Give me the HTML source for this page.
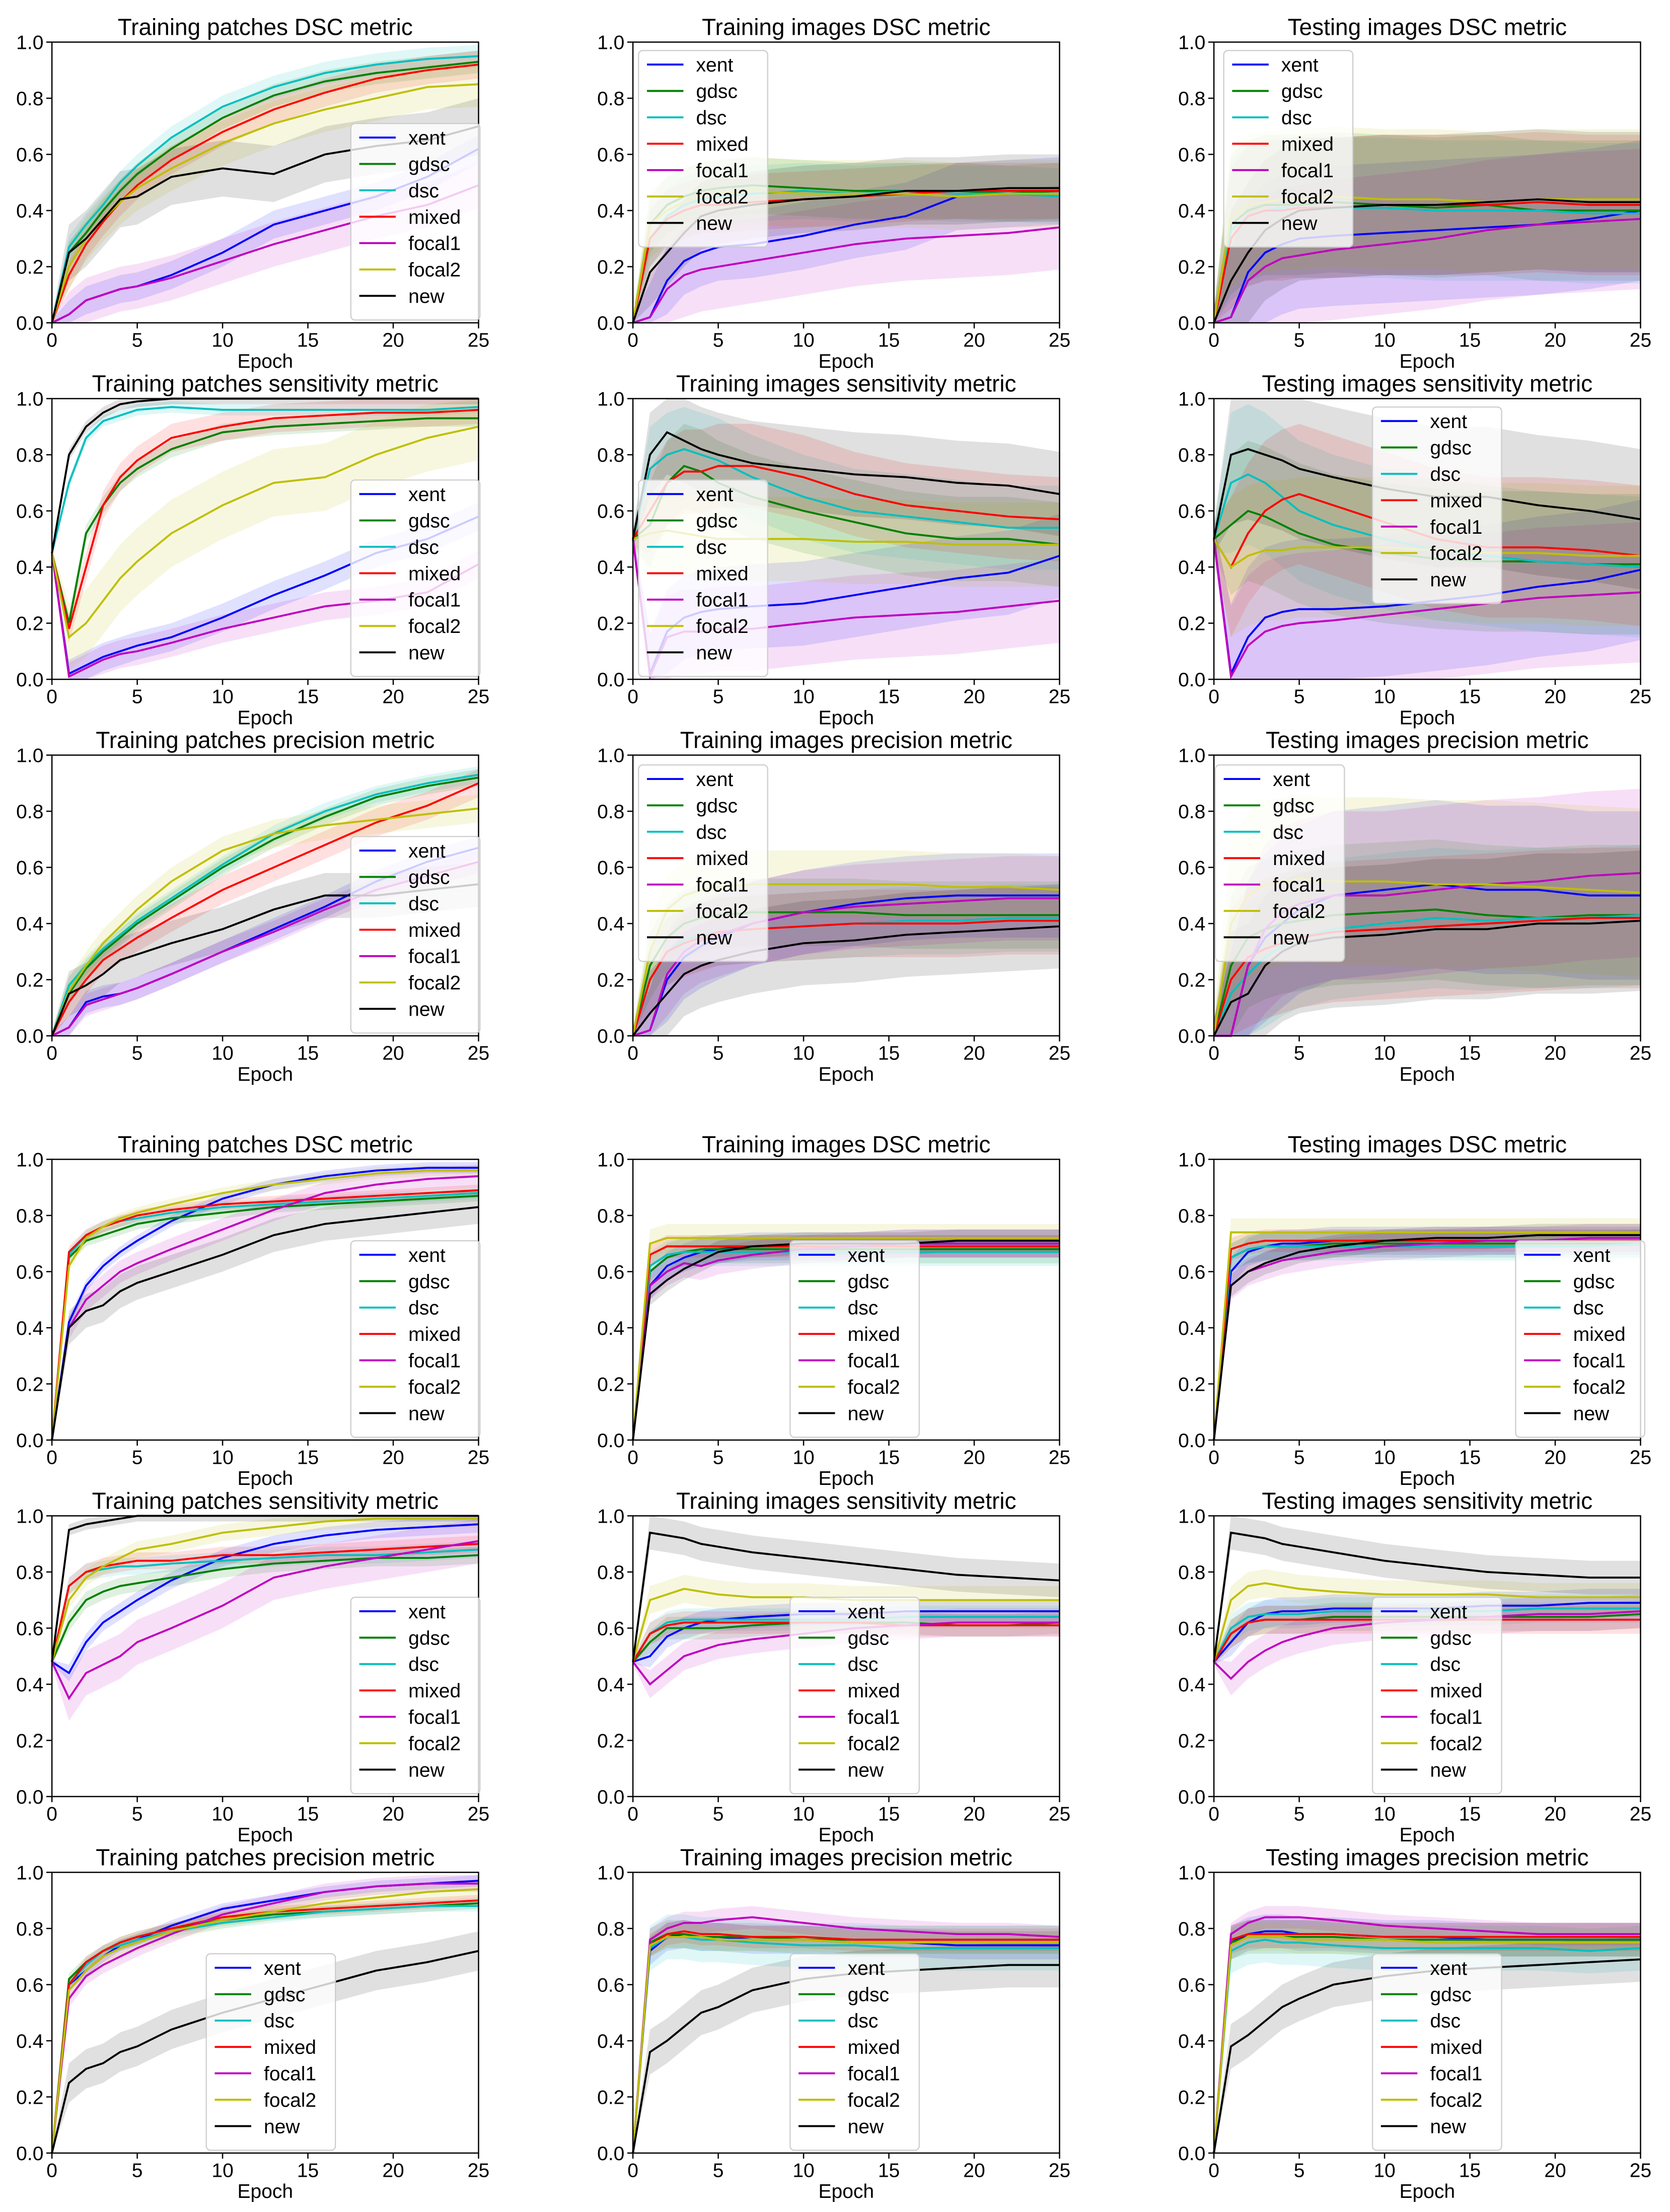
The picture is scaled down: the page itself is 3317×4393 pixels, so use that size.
<!DOCTYPE html>
<html><head><meta charset="utf-8">
<style>
html,body{margin:0;padding:0;background:#fff;}
svg{display:block;font-family:"Liberation Sans","DejaVu Sans",sans-serif;}
</style></head>
<body>
<svg id="fig" xmlns="http://www.w3.org/2000/svg" width="3317" height="4393" viewBox="0 0 1190 1576" preserveAspectRatio="none"></svg>
<script>
const epochs = [0,1,2,3,4,5,7,10,13,16,19,22,25];
const seriesNames = ["xent","gdsc","dsc","mixed","focal1","focal2","new"];
const seriesColors = ["#0000ff","#008000","#00bfbf","#ff0000","#bf00bf","#bfbf00","#000000"];
const xTicks = [0,5,10,15,20,25];
const yTicks = [0,0.2,0.4,0.6,0.8,1.0];
const yTickLabels = ["0.0","0.2","0.4","0.6","0.8","1.0"];
const titles = [
"Training patches DSC metric","Training images DSC metric","Testing images DSC metric",
"Training patches sensitivity metric","Training images sensitivity metric","Testing images sensitivity metric",
"Training patches precision metric","Training images precision metric","Testing images precision metric",
"Training patches DSC metric","Training images DSC metric","Testing images DSC metric",
"Training patches sensitivity metric","Training images sensitivity metric","Testing images sensitivity metric",
"Training patches precision metric","Training images precision metric","Testing images precision metric"];
const p1 = [[0,.03,.08,.10,.12,.13,.17,.25,.35,.40,.45,.52,.62],[0,.25,.32,.40,.47,.53,.62,.73,.81,.86,.89,.91,.93],[0,.27,.35,.42,.50,.56,.66,.77,.84,.89,.92,.94,.95],[0,.17,.28,.36,.43,.49,.58,.68,.76,.82,.87,.90,.92],[0,.03,.08,.10,.12,.13,.16,.22,.28,.33,.38,.42,.49],[0,.2,.3,.37,.43,.48,.55,.64,.71,.76,.80,.84,.85],[0,.25,.30,.37,.44,.45,.52,.55,.53,.60,.63,.65,.70]];
const p2 = [[0,.02,.15,.22,.25,.27,.28,.31,.35,.38,.45,.46,.47],[0,.35,.42,.45,.47,.48,.49,.48,.47,.47,.47,.46,.47],[0,.3,.38,.42,.44,.45,.46,.47,.46,.47,.46,.46,.45],[0,.3,.37,.40,.42,.42,.43,.44,.45,.46,.47,.47,.47],[0,.02,.12,.17,.19,.20,.22,.25,.28,.30,.31,.32,.34],[0,.35,.40,.43,.45,.46,.47,.46,.46,.46,.45,.46,.46],[0,.18,.25,.32,.38,.40,.42,.44,.45,.47,.47,.48,.48]];
const p3 = [[0,.02,.18,.25,.28,.30,.31,.32,.33,.34,.35,.37,.40],[0,.35,.40,.42,.42,.42,.43,.42,.41,.42,.40,.40,.40],[0,.33,.38,.40,.41,.41,.41,.41,.40,.40,.40,.39,.39],[0,.3,.38,.40,.40,.41,.41,.42,.42,.42,.43,.42,.42],[0,.02,.15,.20,.23,.24,.26,.28,.30,.33,.35,.36,.37],[0,.38,.42,.43,.44,.44,.45,.44,.44,.43,.44,.44,.44],[0,.15,.25,.33,.37,.40,.41,.42,.42,.43,.44,.43,.43]];
const p4 = [[.45,.02,.05,.08,.10,.12,.15,.22,.30,.37,.45,.50,.58],[.45,.20,.52,.62,.70,.75,.82,.88,.90,.91,.92,.93,.93],[.45,.70,.86,.92,.94,.96,.97,.96,.96,.96,.96,.96,.97],[.45,.18,.40,.62,.72,.78,.86,.90,.93,.94,.95,.95,.96],[.45,.01,.04,.07,.09,.10,.13,.18,.22,.26,.28,.31,.41],[.45,.15,.20,.28,.36,.42,.52,.62,.70,.72,.80,.86,.90],[.45,.80,.90,.95,.98,.99,1,1,1,1,1,1,1]];
const p5 = [[.5,.02,.17,.22,.24,.25,.26,.27,.30,.33,.36,.38,.44],[.5,.55,.70,.76,.74,.70,.65,.60,.56,.52,.50,.50,.48],[.5,.75,.80,.82,.80,.78,.72,.65,.60,.58,.56,.54,.54],[.5,.60,.70,.74,.74,.76,.76,.72,.66,.62,.60,.58,.57],[.5,.01,.15,.17,.17,.18,.18,.20,.22,.23,.24,.26,.28],[.5,.52,.53,.52,.51,.50,.50,.50,.49,.49,.48,.48,.48],[.5,.80,.88,.85,.82,.80,.77,.75,.73,.72,.70,.69,.66]];
const p6 = [[.5,.02,.15,.22,.24,.25,.25,.26,.28,.30,.33,.35,.39],[.5,.55,.60,.58,.55,.52,.48,.45,.43,.42,.42,.41,.41],[.5,.70,.73,.70,.65,.60,.55,.50,.46,.44,.42,.41,.40],[.5,.40,.52,.60,.64,.66,.62,.56,.50,.47,.47,.46,.44],[.5,.01,.12,.17,.19,.20,.21,.23,.25,.27,.29,.30,.31],[.5,.40,.44,.46,.46,.47,.47,.47,.46,.45,.45,.44,.44],[.5,.80,.82,.80,.78,.75,.72,.68,.65,.65,.62,.60,.57]];
const p7 = [[0,.03,.12,.14,.15,.17,.22,.30,.38,.46,.55,.62,.67],[0,.15,.24,.30,.35,.40,.48,.60,.70,.78,.85,.89,.92],[0,.18,.25,.31,.36,.41,.49,.61,.72,.80,.86,.90,.93],[0,.12,.20,.27,.31,.35,.42,.52,.60,.68,.76,.82,.90],[0,.03,.11,.13,.15,.17,.22,.30,.37,.45,.52,.57,.62],[0,.16,.25,.33,.39,.45,.55,.66,.72,.75,.77,.79,.81],[0,.15,.18,.22,.27,.29,.33,.38,.45,.50,.50,.52,.54]];
const p8 = [[0,.02,.20,.28,.32,.35,.40,.44,.47,.49,.50,.50,.50],[0,.25,.35,.40,.42,.43,.44,.44,.44,.43,.43,.43,.43],[0,.20,.30,.34,.36,.37,.38,.39,.40,.41,.41,.42,.42],[0,.20,.30,.33,.35,.37,.38,.39,.40,.40,.40,.41,.41],[0,.02,.22,.30,.34,.36,.40,.44,.46,.47,.48,.49,.49],[0,.30,.45,.50,.52,.53,.54,.54,.54,.54,.53,.53,.52],[0,.08,.15,.22,.25,.27,.30,.33,.34,.36,.37,.38,.39]];
const p9 = [[0,0,.25,.35,.40,.45,.50,.52,.54,.52,.52,.50,.50],[0,.25,.35,.38,.40,.41,.43,.44,.45,.43,.42,.43,.43],[0,.15,.22,.28,.32,.35,.38,.40,.42,.41,.42,.42,.43],[0,.20,.28,.31,.33,.35,.37,.38,.39,.40,.41,.42,.42],[0,0,.25,.38,.44,.47,.50,.50,.52,.54,.55,.57,.58],[0,.40,.50,.54,.55,.56,.55,.55,.54,.54,.53,.52,.51],[0,.12,.15,.25,.30,.33,.35,.36,.38,.38,.40,.40,.41]];
const p10 = [[0,.42,.55,.62,.67,.71,.78,.86,.91,.94,.96,.97,.97],[0,.65,.71,.73,.75,.77,.79,.81,.83,.84,.85,.86,.87],[0,.66,.73,.76,.78,.79,.81,.83,.84,.85,.86,.87,.88],[0,.67,.73,.76,.78,.80,.82,.84,.85,.86,.87,.88,.89],[0,.40,.50,.55,.60,.63,.68,.75,.82,.88,.91,.93,.94],[0,.62,.72,.76,.79,.81,.84,.88,.91,.93,.95,.96,.96],[0,.40,.46,.48,.53,.56,.60,.66,.73,.77,.79,.81,.83]];
const p11 = [[0,.55,.62,.65,.67,.68,.69,.69,.69,.70,.70,.70,.70],[0,.60,.65,.67,.68,.68,.68,.68,.68,.68,.68,.68,.68],[0,.62,.66,.67,.67,.67,.67,.67,.67,.67,.67,.67,.67],[0,.66,.69,.69,.69,.69,.69,.69,.69,.69,.69,.69,.69],[0,.55,.60,.63,.62,.64,.66,.68,.69,.70,.70,.70,.70],[0,.70,.72,.72,.72,.72,.72,.72,.72,.72,.72,.72,.72],[0,.52,.57,.61,.64,.67,.69,.70,.70,.70,.71,.71,.71]];
const p12 = [[0,.6,.67,.69,.70,.70,.71,.71,.71,.71,.71,.71,.71],[0,.65,.68,.69,.69,.69,.70,.70,.70,.70,.70,.70,.70],[0,.65,.68,.69,.69,.69,.69,.69,.69,.69,.69,.69,.70],[0,.68,.70,.71,.71,.71,.71,.71,.71,.71,.71,.71,.71],[0,.55,.60,.62,.64,.65,.67,.69,.70,.71,.71,.72,.72],[0,.74,.74,.74,.74,.74,.74,.74,.74,.74,.74,.74,.74],[0,.55,.60,.63,.65,.67,.69,.71,.72,.72,.73,.73,.73]];
const p13 = [[.48,.44,.55,.62,.66,.70,.77,.85,.90,.93,.95,.96,.97],[.48,.62,.70,.73,.75,.76,.78,.81,.83,.84,.85,.85,.86],[.48,.75,.80,.81,.82,.82,.83,.84,.85,.86,.86,.87,.88],[.48,.75,.80,.82,.83,.84,.84,.86,.86,.87,.88,.89,.90],[.48,.35,.44,.47,.50,.55,.60,.68,.78,.82,.85,.88,.91],[.48,.70,.78,.82,.85,.88,.90,.94,.96,.98,.99,.99,.99],[.48,.95,.97,.98,.99,1,1,1,1,1,1,1,1]];
const p14 = [[.48,.50,.57,.60,.62,.63,.64,.65,.65,.66,.66,.66,.66],[.48,.55,.60,.60,.60,.60,.61,.62,.62,.62,.61,.61,.62],[.48,.58,.62,.63,.63,.63,.63,.63,.63,.64,.64,.64,.64],[.48,.58,.61,.62,.62,.62,.62,.62,.62,.61,.61,.61,.61],[.48,.40,.45,.50,.52,.54,.56,.58,.60,.61,.62,.62,.62],[.48,.70,.72,.74,.73,.72,.71,.71,.70,.70,.70,.70,.70],[.48,.94,.93,.92,.90,.89,.87,.85,.83,.81,.79,.78,.77]];
const p15 = [[.48,.55,.62,.65,.66,.66,.67,.67,.67,.68,.68,.69,.69],[.48,.58,.62,.63,.63,.63,.64,.64,.64,.64,.64,.64,.65],[.48,.60,.64,.65,.65,.65,.66,.66,.66,.66,.67,.67,.67],[.48,.58,.62,.63,.63,.63,.63,.63,.63,.63,.63,.63,.63],[.48,.42,.48,.52,.55,.57,.60,.62,.63,.64,.65,.65,.66],[.48,.70,.75,.76,.75,.74,.73,.72,.72,.72,.71,.71,.71],[.48,.94,.93,.92,.90,.89,.87,.84,.82,.80,.79,.78,.78]];
const p16 = [[0,.60,.65,.70,.74,.76,.81,.87,.90,.93,.95,.96,.97],[0,.62,.68,.72,.75,.77,.80,.83,.85,.86,.87,.88,.89],[0,.60,.67,.72,.74,.76,.79,.82,.84,.86,.87,.88,.88],[0,.60,.68,.72,.75,.77,.80,.84,.86,.87,.88,.89,.90],[0,.55,.63,.67,.70,.73,.78,.85,.89,.93,.95,.96,.96],[0,.58,.65,.70,.73,.75,.79,.83,.86,.89,.91,.93,.94],[0,.25,.30,.32,.36,.38,.44,.50,.55,.60,.65,.68,.72]];
const p17 = [[0,.72,.77,.78,.77,.77,.76,.76,.75,.75,.74,.74,.74],[0,.75,.78,.78,.77,.77,.77,.76,.76,.76,.76,.76,.76],[0,.73,.77,.77,.76,.76,.75,.74,.74,.73,.73,.73,.73],[0,.74,.78,.79,.78,.78,.77,.77,.76,.76,.76,.76,.76],[0,.76,.80,.82,.82,.83,.84,.82,.80,.79,.78,.78,.77],[0,.74,.77,.77,.77,.76,.76,.76,.75,.75,.75,.75,.75],[0,.36,.40,.45,.50,.52,.58,.62,.64,.65,.66,.67,.67]];
const p18 = [[0,.75,.78,.79,.79,.78,.78,.77,.77,.76,.76,.76,.76],[0,.75,.77,.77,.77,.77,.77,.76,.76,.76,.76,.76,.76],[0,.72,.75,.76,.75,.75,.74,.73,.73,.73,.73,.72,.73],[0,.76,.78,.78,.78,.78,.78,.77,.77,.77,.77,.77,.77],[0,.78,.82,.84,.84,.84,.83,.81,.80,.79,.78,.78,.78],[0,.74,.77,.77,.77,.76,.76,.76,.75,.75,.75,.75,.75],[0,.38,.42,.47,.52,.55,.60,.63,.65,.66,.67,.68,.69]];
const panelData = [p1,p2,p3,p4,p5,p6,p7,p8,p9,p10,p11,p12,p13,p14,p15,p16,p17,p18];
const spreads = [
[.05,.04,.04,.05,.08,.08,.10],[.12,.10,.10,.10,.15,.12,.12],[.25,.25,.25,.25,.25,.25,.25],
[.05,.03,.02,.05,.05,.12,.02],[.15,.15,.15,.15,.15,.15,.15],[.25,.25,.25,.25,.25,.25,.25],
[.04,.03,.03,.05,.04,.05,.08],[.15,.12,.12,.12,.15,.12,.15],[.30,.25,.25,.25,.30,.30,.25],
[.02,.02,.02,.02,.04,.02,.06],[.05,.05,.05,.04,.05,.05,.04],[.05,.05,.05,.04,.05,.05,.04],
[.03,.03,.03,.03,.08,.03,.02],[.04,.04,.04,.04,.05,.05,.06],[.05,.05,.05,.05,.06,.05,.06],
[.02,.02,.02,.02,.03,.03,.07],[.05,.05,.08,.04,.04,.04,.08],[.06,.06,.08,.05,.04,.05,.08]];
const legendPos = [[250,88],[455,36],[872,36],[250,342],[455,342],[978,290],[250,596],[455,545],[866,545],
[250,884],[563,884],[1080,884],[250,1138],[563,1138],[978,1138],[147,1392],[563,1392],[978,1392]];

const NS="http://www.w3.org/2000/svg";
const svg=document.getElementById('fig');
function mk(tag,attrs,parent){const e=document.createElementNS(NS,tag);for(const k in attrs)e.setAttribute(k,attrs[k]);parent.appendChild(e);return e;}
const colX=[37,451,865], W=304, H=200;
const rowY=[30,284,538,826,1080,1334];
panelData.forEach((data,pi)=>{
  const r=Math.floor(pi/3), c=pi%3;
  const x0=colX[c], y0=rowY[r];
  const sx=v=>x0+v/25*W, sy=v=>y0+H-v*H;
  const g=mk('g',{},svg);
  
  
  const t=mk('text',{x:x0+W/2,y:y0-5,'text-anchor':'middle','font-size':16.5,fill:'#000'},g);
  
  
  t.textContent=titles[pi];
  data.forEach((vals,si)=>{
    const s=spreads[pi][si];
    let up=vals.map((v,i)=>sx(epochs[i])+','+sy(Math.min(1,v+s*(i==0?0.2:1))));
    let dn=vals.map((v,i)=>sx(epochs[i])+','+sy(Math.max(0,v-s*(i==0?0.2:1)))).reverse();
    const b=mk('polygon',{points:up.concat(dn).join(' '),fill:seriesColors[si],'fill-opacity':0.12},g);
    
    
  });
  data.forEach((vals,si)=>{
    const l=mk('polyline',{points:vals.map((v,i)=>sx(epochs[i])+','+sy(v)).join(' '),fill:'none',stroke:seriesColors[si],'stroke-width':1.4},g);
    
    
  });
  const fr=mk('rect',{x:x0,y:y0,width:W,height:H,fill:'none',stroke:'#000','stroke-width':0.9},g);
  
  
  xTicks.forEach(v=>{
    mk('line',{x1:sx(v),x2:sx(v),y1:y0+H,y2:y0+H+4,stroke:'#000','stroke-width':0.9},g);
    const tx=mk('text',{x:sx(v),y:y0+H+17,'text-anchor':'middle','font-size':14},g);
    
    
    tx.textContent=v;
  });
  yTicks.forEach((v,i)=>{
    mk('line',{x1:x0-4,x2:x0,y1:sy(v),y2:sy(v),stroke:'#000','stroke-width':0.9},g);
    const ty=mk('text',{x:x0-6,y:sy(v)+5,'text-anchor':'end','font-size':14},g);
    
    
    ty.textContent=yTickLabels[i];
  });
  const xl=mk('text',{x:x0+W/2,y:y0+H+32,'text-anchor':'middle','font-size':14},g);
  
  
  xl.textContent='Epoch';
  const [lx,ly]=legendPos[pi];
  const lg=mk('g',{},g);
  
  
  mk('rect',{x:lx,y:ly,width:92,height:140,rx:3,fill:'#fff','fill-opacity':0.8,stroke:'#ccc','stroke-width':0.8},lg);
  seriesNames.forEach((n,si)=>{
    const yy=ly+10+si*18.8;
    mk('line',{x1:lx+6,x2:lx+32,y1:yy,y2:yy,stroke:seriesColors[si],'stroke-width':1.4},lg);
    const lt=mk('text',{x:lx+41,y:yy+5,'font-size':14},lg);
    
    
    lt.textContent=n;
  });
});
</script>
</body></html>
